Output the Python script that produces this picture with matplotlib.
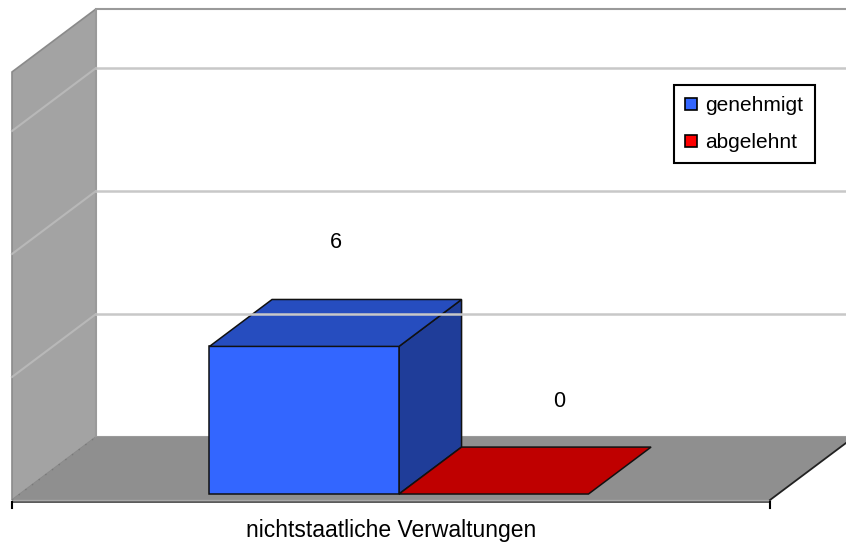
import matplotlib.pyplot as plt
from matplotlib.patches import Polygon
from matplotlib.lines import Line2D

# chart data
category = "nichtstaatliche Verwaltungen"
series = ["genehmigt", "abgelehnt"]
values = [6, 0]
colors = ["#3366FF", "#FF0000"]
grid_values = [5, 10, 15]

plt.rcParams["font.family"] = ["Liberation Sans", "DejaVu Sans"]

# oblique 3D layout: x in category units, y in value units, depth 0..1
PX_CAT = 758.0
PX_UNIT = 24.6
DX = 84 / PX_CAT
DY = 63 / PX_UNIT
WALL_TOP = 17.4
D_FRONT, D_BACK = 0.095, 0.84


def proj(x, v, d):
    return (x + d * DX, v + d * DY)


def shade(c, f):
    r, g, b = plt.matplotlib.colors.to_rgb(c)
    return (r * f, g * f, b * f)


def main():
    fig = plt.figure(figsize=(8.46, 5.46), dpi=100)
    ax = fig.add_axes([0, 0, 1, 1])
    ax.set_xlim(-12 / PX_CAT, (846 - 12) / PX_CAT)
    ax.set_ylim(-(546 - 500) / PX_UNIT, 500 / PX_UNIT)
    ax.axis("off")

    # walls
    side = [proj(0, 0, 0), proj(0, 0, 1), proj(0, WALL_TOP, 1), proj(0, WALL_TOP, 0)]
    ax.add_patch(Polygon(side, closed=True, fc="#a3a3a3", ec="#8a8a8a", lw=1.2))
    back = [proj(0, 0, 1), proj(1.2, 0, 1), proj(1.2, WALL_TOP, 1), proj(0, WALL_TOP, 1)]
    ax.add_patch(Polygon(back, closed=True, fc="white", ec="#9a9a9a", lw=1.5))

    # gridlines on both walls
    for g in grid_values:
        ax.plot(*zip(proj(0, g, 1), proj(1.2, g, 1)), color="#c8c8c8", lw=1.8)
        ax.plot(*zip(proj(0, g, 0), proj(0, g, 1)), color="#b8b8b8", lw=1.5)

    # floor with a thin front edge
    floor = [proj(0, 0, 0), proj(1, 0, 0), proj(1, 0, 1), proj(0, 0, 1)]
    ax.add_patch(Polygon(floor, closed=True, fc="#8f8f8f", ec="none"))
    edge = [proj(0, 0, 0), proj(1, 0, 0), proj(1, -0.14, 0), proj(0, -0.14, 0)]
    ax.add_patch(Polygon(edge, closed=True, fc="#5c5c5c", ec="none"))
    ax.plot(*zip(proj(0, 0, 0), proj(1, 0, 0)), color="#a8a8a8", lw=1.0)
    ax.plot(*zip(proj(1, 0, 0), proj(1, 0, 1)), color="#222222", lw=1.3)
    ax.plot(*zip(proj(0, 0, 0), proj(0, 0, 1)), color="#7a7a7a", lw=1.0, ls=(0, (1, 5)))

    # category ticks
    for x in (0, 1):
        ax.plot([x, x], [-0.1, -0.32], color="black", lw=1.5)

    # bars
    width = 0.25
    label_offsets = [(0, 80), (34, 69)]
    for i, (v, c) in enumerate(zip(values, colors)):
        x0 = 0.25 + i * width
        x1 = x0 + width
        front = [proj(x0, 0, D_FRONT), proj(x1, 0, D_FRONT), proj(x1, v, D_FRONT), proj(x0, v, D_FRONT)]
        top = [proj(x0, v, D_FRONT), proj(x1, v, D_FRONT), proj(x1, v, D_BACK), proj(x0, v, D_BACK)]
        right = [proj(x1, 0, D_FRONT), proj(x1, 0, D_BACK), proj(x1, v, D_BACK), proj(x1, v, D_FRONT)]
        if v > 0:
            ax.add_patch(Polygon(right, closed=True, fc=shade(c, 0.6), ec="#111111", lw=1.1))
            ax.add_patch(Polygon(front, closed=True, fc=c, ec="#111111", lw=1.1))
        ax.add_patch(Polygon(top, closed=True, fc=shade(c, 0.75), ec="#111111", lw=1.1))

        dx, dy = label_offsets[i]
        ax.annotate(str(v), proj((x0 + x1) / 2, v, 0.47), xytext=(dx, dy),
                    textcoords="offset pixels", ha="center", va="center", fontsize=15.5)

    ax.annotate(category, proj(0.5, 0, 0), xytext=(0, -30), textcoords="offset pixels",
                ha="center", va="center", fontsize=16.5)

    handles = [Line2D([], [], ls="none", marker="s", markersize=8, markerfacecolor=c,
                      markeredgecolor="black", markeredgewidth=1.2) for c in colors]
    leg = ax.legend(handles, series, loc="upper left", bbox_to_anchor=(674 / 846, 1 - 85 / 546),
                    borderaxespad=0, fancybox=False, framealpha=1, edgecolor="black",
                    fontsize=15, handlelength=0.5, handletextpad=0.45, labelspacing=0.84,
                    borderpad=0.55)
    leg.get_frame().set_linewidth(1.5)


if __name__ == "__main__":
    main()
    plt.savefig("out.png", dpi=100)
